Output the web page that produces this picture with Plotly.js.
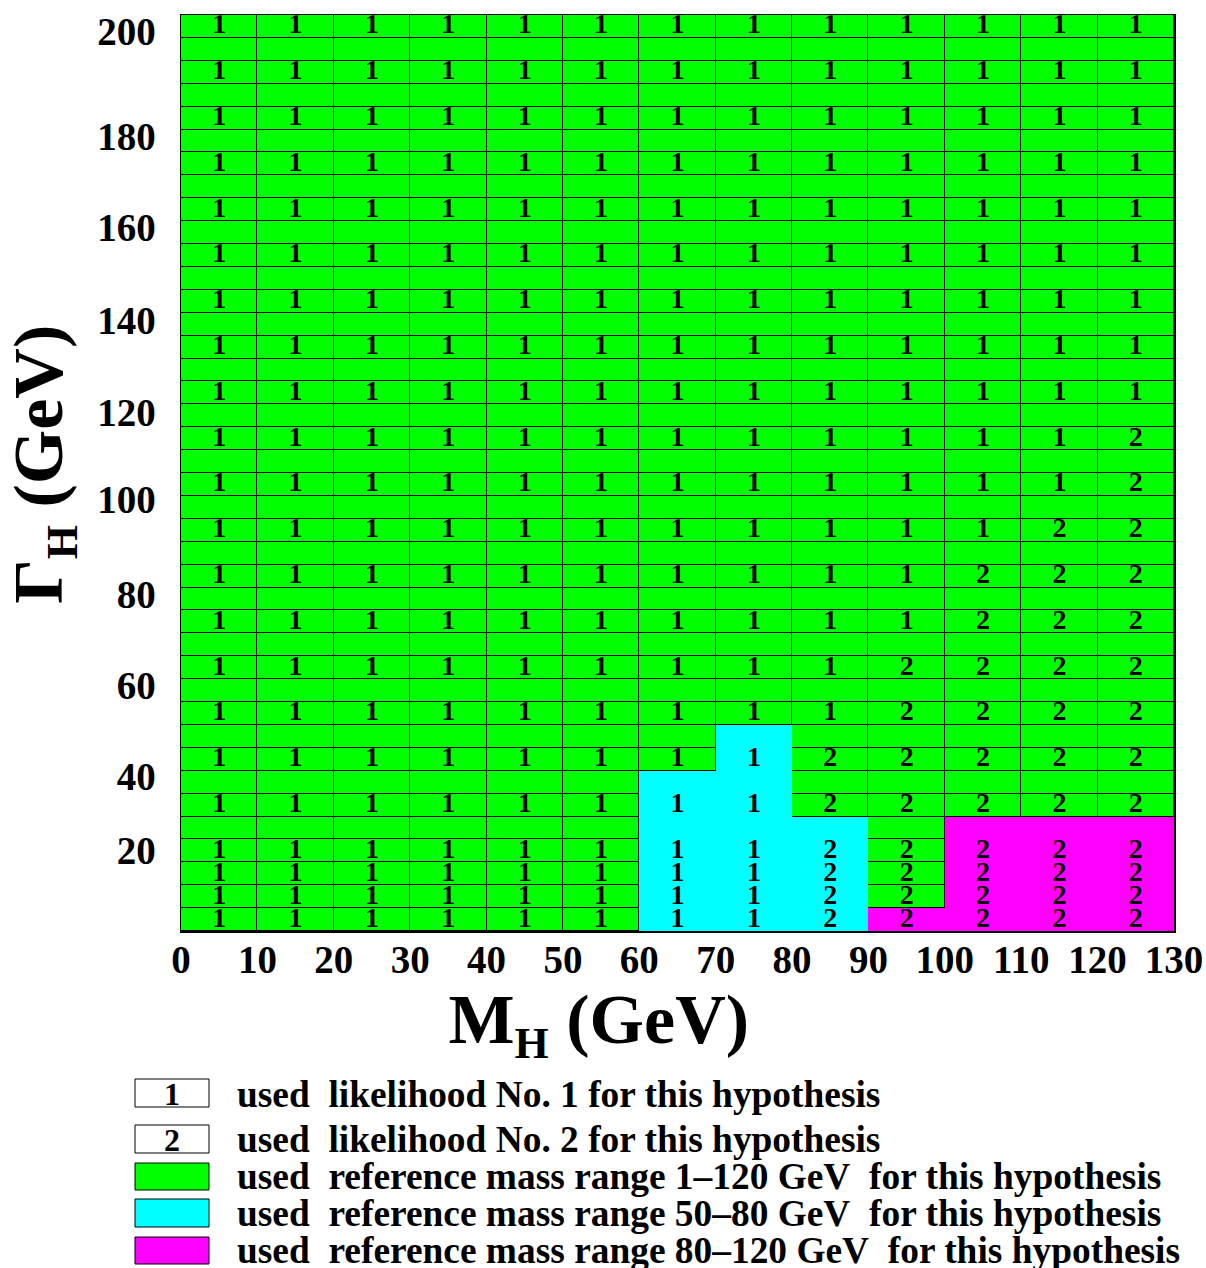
<!DOCTYPE html>
<html>
<head>
<meta charset="utf-8">
<script src="https://cdn.plot.ly/plotly-3.0.1.min.js"></script>
<style>
  html, body { margin: 0; padding: 0; background: #fff; }
  #chart { width: 1206px; height: 1268px; }
</style>
</head>
<body>
<div id="chart"></div>
<script>
// Higgs mass columns (GeV), centres of the 10 GeV bins
var massCenters = [5, 15, 25, 35, 45, 55, 65, 75, 85, 95, 105, 115, 125];
var massTicks = [0, 10, 20, 30, 40, 50, 60, 70, 80, 90, 100, 110, 120, 130];

// Gamma_H rows that carry a likelihood number (centres of 5 GeV bins)
var gammaRows = [2.5, 7.5, 12.5, 17.5, 27.5, 37.5, 47.5, 57.5, 67.5, 77.5, 87.5,
                 97.5, 107.5, 117.5, 127.5, 137.5, 147.5, 157.5, 167.5, 177.5, 187.5, 197.5];

// likelihood number used, one line per gammaRows entry, one column per mass bin
var likelihoodNo = [
    [1, 1, 1, 1, 1, 1, 1, 1, 2, 2, 2, 2, 2],   // 2.5
    [1, 1, 1, 1, 1, 1, 1, 1, 2, 2, 2, 2, 2],   // 7.5
    [1, 1, 1, 1, 1, 1, 1, 1, 2, 2, 2, 2, 2],   // 12.5
    [1, 1, 1, 1, 1, 1, 1, 1, 2, 2, 2, 2, 2],   // 17.5
    [1, 1, 1, 1, 1, 1, 1, 1, 2, 2, 2, 2, 2],   // 27.5
    [1, 1, 1, 1, 1, 1, 1, 1, 2, 2, 2, 2, 2],   // 37.5
    [1, 1, 1, 1, 1, 1, 1, 1, 1, 2, 2, 2, 2],   // 47.5
    [1, 1, 1, 1, 1, 1, 1, 1, 1, 2, 2, 2, 2],   // 57.5
    [1, 1, 1, 1, 1, 1, 1, 1, 1, 1, 2, 2, 2],   // 67.5
    [1, 1, 1, 1, 1, 1, 1, 1, 1, 1, 2, 2, 2],   // 77.5
    [1, 1, 1, 1, 1, 1, 1, 1, 1, 1, 1, 2, 2],   // 87.5
    [1, 1, 1, 1, 1, 1, 1, 1, 1, 1, 1, 1, 2],   // 97.5
    [1, 1, 1, 1, 1, 1, 1, 1, 1, 1, 1, 1, 2],   // 107.5
    [1, 1, 1, 1, 1, 1, 1, 1, 1, 1, 1, 1, 1],   // 117.5
    [1, 1, 1, 1, 1, 1, 1, 1, 1, 1, 1, 1, 1],   // 127.5
    [1, 1, 1, 1, 1, 1, 1, 1, 1, 1, 1, 1, 1],   // 137.5
    [1, 1, 1, 1, 1, 1, 1, 1, 1, 1, 1, 1, 1],   // 147.5
    [1, 1, 1, 1, 1, 1, 1, 1, 1, 1, 1, 1, 1],   // 157.5
    [1, 1, 1, 1, 1, 1, 1, 1, 1, 1, 1, 1, 1],   // 167.5
    [1, 1, 1, 1, 1, 1, 1, 1, 1, 1, 1, 1, 1],   // 177.5
    [1, 1, 1, 1, 1, 1, 1, 1, 1, 1, 1, 1, 1],   // 187.5
    [1, 1, 1, 1, 1, 1, 1, 1, 1, 1, 1, 1, 1]    // 197.5
];

// reference mass range: 0 = 1-120 GeV, 1 = 50-80 GeV, 2 = 80-120 GeV
// per mass column: which range was used, and up to which Gamma_H (GeV)
var refRangeId  = [0, 0, 0, 0, 0, 0, 1, 1, 1, 2, 2, 2, 2];
var refRangeTop = [0, 0, 0, 0, 0, 0, 35, 45, 25, 5, 25, 25, 25];

// y labels sit a bit below their nominal value in the original
var gammaTickPos  = [17.6, 33.7, 53.7, 73.6, 94.3, 113.3, 133.4, 153.7, 173.6, 196.4];
var gammaTickText = ['20', '40', '60', '80', '100', '120', '140', '160', '180', '200'];

var legendSymbols = ['1', '2', '', '', ''];
var legendColors  = ['#ffffff', '#ffffff', '#00ff00', '#00ffff', '#ff00ff'];
var legendLabels  = [
    'used\u00a0 likelihood No. 1 for this hypothesis',
    'used\u00a0 likelihood No. 2 for this hypothesis',
    'used\u00a0 reference mass range 1\u2013120 GeV\u00a0 for this hypothesis',
    'used\u00a0 reference mass range 50\u201380 GeV\u00a0 for this hypothesis',
    'used\u00a0 reference mass range 80\u2013120 GeV\u00a0 for this hypothesis'
];

var serif = 'Liberation Serif, Times New Roman, serif';
var nRows = 40;   // 5 GeV bins from 0 to 200

// colour tables for the two heatmaps
var baseZ = [], refZ = [];
for (var r = 0; r < nRows; r++) {
    var yc = 2.5 + 5 * r;
    baseZ.push(massCenters.map(function () { return 0; }));
    refZ.push(massCenters.map(function (m, c) {
        return (refRangeId[c] > 0 && yc < refRangeTop[c]) ? refRangeId[c] : null;
    }));
}

// numbers written in the cells
var txtX = [], txtY = [], txt = [];
gammaRows.forEach(function (g, i) {
    massCenters.forEach(function (m, c) {
        txtX.push(m);
        txtY.push(g);
        txt.push(String(likelihoodNo[i][c]));
    });
});

var traces = [
    {
        type: 'heatmap', z: baseZ, x0: 5, dx: 10, y0: 2.5, dy: 5,
        zmin: 0, zmax: 1, colorscale: [[0, '#00ff00'], [1, '#00ff00']],
        xgap: 1, ygap: 1, showscale: false, hoverinfo: 'skip'
    },
    {
        type: 'heatmap', z: refZ, x0: 5, dx: 10, y0: 2.5, dy: 5,
        zmin: 0, zmax: 2, colorscale: [[0, '#00ff00'], [0.5, '#00ffff'], [1, '#ff00ff']],
        showscale: false, hoverinfo: 'skip'
    },
    {
        type: 'scatter', mode: 'text', x: txtX, y: txtY, text: txt,
        textposition: 'middle center',
        textfont: { family: serif, size: 28, color: '#000', weight: 'bold' },
        hoverinfo: 'skip'
    }
];

// pixel -> paper helpers for the legend under the plot
function px(x) { return (x - 181) / 993; }
function py(y) { return (931 - y) / 916; }

var boxTop    = [1079, 1125, 1163, 1199, 1237];
var boxBottom = [1107, 1153, 1190, 1227, 1264];
var labelMid  = [1094, 1139, 1176, 1213, 1250];

var shapes = [], annotations = [];
legendLabels.forEach(function (lab, i) {
    shapes.push({
        type: 'rect', xref: 'paper', yref: 'paper',
        x0: px(135), x1: px(209), y0: py(boxBottom[i]), y1: py(boxTop[i]),
        fillcolor: legendColors[i], line: { color: '#000', width: 1 }
    });
    if (legendSymbols[i]) {
        annotations.push({
            xref: 'paper', yref: 'paper', x: px(172), y: py(boxTop[i] + 15),
            xanchor: 'center', yanchor: 'middle',
            text: '<b>' + legendSymbols[i] + '</b>', showarrow: false,
            font: { family: serif, size: 32, color: '#000' }
        });
    }
    annotations.push({
        xref: 'paper', yref: 'paper', x: px(235), y: py(labelMid[i]),
        xanchor: 'left', yanchor: 'middle',
        text: '<b>' + lab + '</b>', showarrow: false,
        font: { family: serif, size: 37.4, color: '#000' }
    });
});

var layout = {
    width: 1206, height: 1268,
    margin: { l: 181, r: 32, t: 15, b: 337 },
    paper_bgcolor: '#fff', plot_bgcolor: '#000',
    showlegend: false,
    xaxis: {
        range: [0, 130], tickvals: massTicks, ticks: '',
        showgrid: false, zeroline: false,
        showline: true, mirror: true, linecolor: '#000', linewidth: 1.5,
        ticklabelstandoff: -6,
        tickfont: { family: serif, size: 39, color: '#000', weight: 'bold' },
        title: {
            // trailing blanks push the title left of centre, as in the original
            text: '<b>M<sub><span style="font-size:44px">H</span></sub> (GeV)</b>' +
                  '\u00a0\u00a0\u00a0\u00a0\u00a0\u00a0\u00a0\u00a0\u00a0\u200b',
            font: { family: serif, size: 70, color: '#000' }, standoff: 4
        },
        fixedrange: true
    },
    yaxis: {
        range: [0, 200], tickvals: gammaTickPos, ticktext: gammaTickText, ticks: '',
        showgrid: false, zeroline: false,
        showline: true, mirror: true, linecolor: '#000', linewidth: 1.5,
        ticklabelstandoff: 16,
        tickfont: { family: serif, size: 39, color: '#000', weight: 'bold' },
        title: {
            text: '\u200b\u00a0<b>\u0393<sub><span style="font-size:44px">H</span></sub> (GeV)</b>',
            font: { family: serif, size: 70, color: '#000' }, standoff: 18
        },
        fixedrange: true
    },
    shapes: shapes,
    annotations: annotations
};

Plotly.newPlot('chart', traces, layout, { displayModeBar: false, staticPlot: true });
</script>
</body>
</html>
